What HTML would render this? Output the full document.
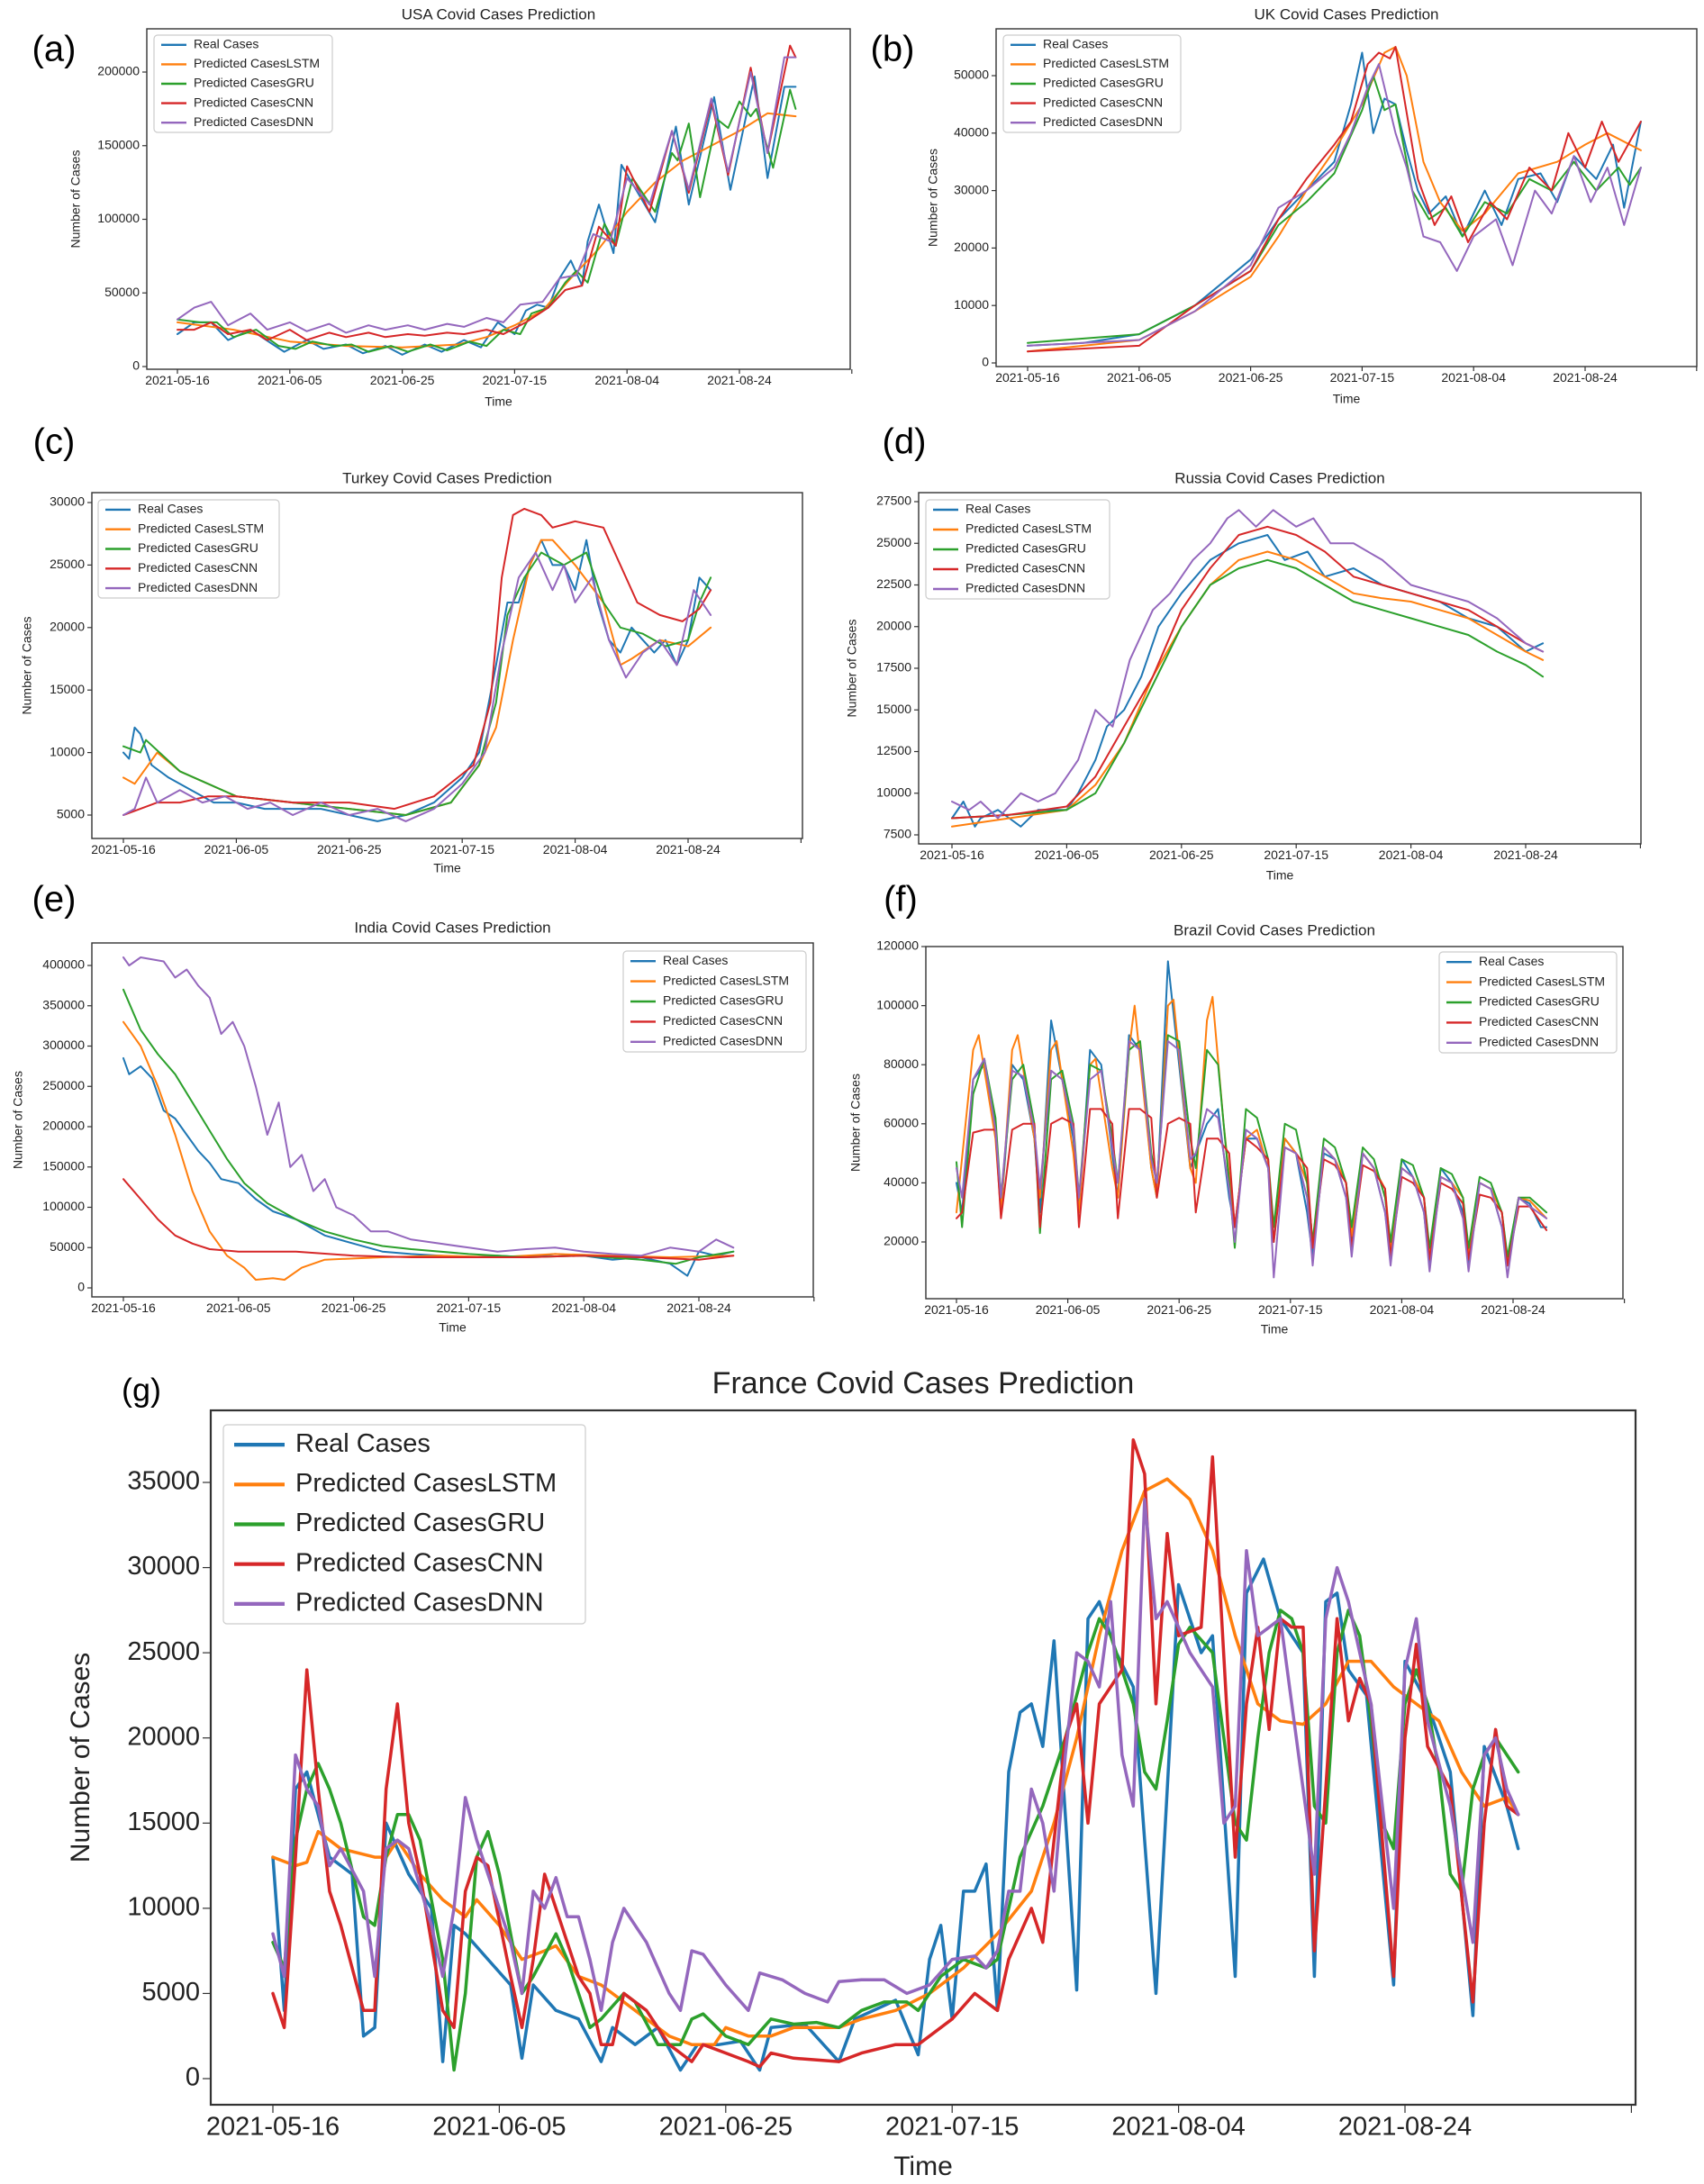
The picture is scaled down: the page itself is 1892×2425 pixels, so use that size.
<!DOCTYPE html>
<html><head><meta charset="utf-8"><title>Covid Cases Prediction</title>
<style>
html,body{margin:0;padding:0;background:#fff;}
svg{display:block;font-family:"Liberation Sans",sans-serif;}
</style></head>
<body>
<svg id="fig" width="1892" height="2425" viewBox="0 0 1892 2425" xmlns="http://www.w3.org/2000/svg"></svg>
<script>
const seriesNames = ['Real Cases','Predicted CasesLSTM','Predicted CasesGRU','Predicted CasesCNN','Predicted CasesDNN'];
const seriesColors = ['#1f77b4','#ff7f0e','#2ca02c','#d62728','#9467bd'];
const dateLabels = ['2021-05-16','2021-06-05','2021-06-25','2021-07-15','2021-08-04','2021-08-24'];
const dateDays = [0,20,40,60,80,100];

// ---- USA (values in thousands) ----
const usaReal=[0,22,3,30,6,30,9,18,13,25,17,15,19,10,23,18,26,12,30,15,33,9,37,14,40,8,44,15,47,10,51,18,54,13,57,30,60,22,62,38,64,42,66,40,68,60,70,72,72,55,73,85,75,110,77.6,77,79,137,85,98,88.7,163,91,110,95.5,183,98.4,120,102.7,197,105,128,108,190,110,190];
const usaLSTM=[0,30,10,25,20,17,30,14,40,13,50,15,55,20,60,28,65,38,70,60,75,80,80,105,85,125,90,140,95,150,100,160,105,172,110,170];
const usaGRU=[0,32,4,30,7,30,10,20,14,25,18,14,21,12,24,17,28,14,31,15,34,10,38,14,41,10,45,15,48,11,52,17,55,14,58,25,61,22,63,36,66,40,69,57,71,65,73,57,76,97,78,82,81,128,85,105,88,145,89,140,91,165,93,115,96,168,98,162,100,180,102,170,103,175,106,135,109,188,110,175];
const usaCNN=[0,25,3,25,6,30,9,22,13,25,16,18,20,25,23,18,27,23,30,20,34,23,37,20,41,22,44,21,48,23,51,22,55,25,58,22,62,30,66,40,69,52,72,55,75,95,78,82,80,136,84,105,88,160,91,118,95,180,98,130,102,203,105,145,109,218,110,210];
const usaDNN=[0,32,3,40,6,44,9,28,13,36,16,25,20,30,23,24,27,29,30,23,34,28,37,25,41,28,44,25,48,29,51,27,55,33,58,30,61,42,65,44,68,60,71,62,74,90,77,85,80,128,84,110,88,160,91,120,95,182,98,132,102,200,105,145,108,210,110,210];

// ---- UK ----
const ukReal=[0,3,10,3.5,20,5,30,10,35,14,40,18,45,25,50,30,55,35,58,45,60,54,62,40,64,46,66,45,68,37,70,30,72,26,75,29,78,22,82,30,85,24,88,32,92,33,95,28,98,36,102,32,105,38,107,27,110,42];
const ukLSTM=[0,2,20,4,30,9,40,15,45,22,50,30,55,37,60,45,64,54,66,55,68,50,71,35,74,28,78,23,82,26,88,33,95,35,100,38,104,40,110,37];
const ukGRU=[0,3.5,20,5,30,10,40,16,45,24,50,28,55,33,60,44,62,50,64,44,66,45,69,30,72,25,75,27,78,22,82,28,86,26,90,32,94,30,98,35,102,30,106,34,108,31,110,34];
const ukCNN=[0,2,20,3,30,10,40,16,45,25,50,32,55,38,58,42,61,52,63,54,65,53,66,55,70,32,73,24,76,29,79,21,83,28,86,25,90,34,94,30,97,40,100,34,103,42,106,35,110,42];
const ukDNN=[0,3,20,4,30,9,40,17,45,27,50,30,55,34,58,40,61,48,63,52,66,40,68,34,71,22,74,21,77,16,80,22,84,25,87,17,91,30,94,26,98,36,101,28,104,34,107,24,110,34];

// ---- Turkey ----
const trReal=[0,10,1,9.5,2,12,3,11.5,5,9,8,8,12,7,16,6,20,6,25,5.5,30,5.5,35,5.5,40,5,45,4.5,50,5,55,6,60,8,63,10,66,17,68,22,70,22,72,25,74,27,76,25,78,25,80,23,82,27,84,22,86,19,88,18,90,20,92,19,94,18,96,19,98,17,100,19,102,24,104,23];
const trLSTM=[0,8,2,7.5,6,10,10,8.5,20,6.5,30,6,40,5.5,50,5,58,6,63,9,66,12,69,19,72,25,74,27,76,27,80,25,85,22,88,17,90,17.5,95,19,100,18.5,104,20];
const trGRU=[0,10.5,3,10,4,11,10,8.5,15,7.5,20,6.5,30,6,40,5.5,50,5,58,6,63,9,66,14,68,21,71,24,74,26,78,25,82,26,85,22,88,20,92,19.5,96,18.5,100,19,102,22,104,24];
const trCNN=[0,5,3,5.5,6,6,10,6,15,6.5,20,6.5,30,6,40,6,48,5.5,55,6.5,62,9,65,14,67,24,69,29,71,29.5,74,29,76,28,80,28.5,85,28,88,25,91,22,95,21,99,20.5,102,21.5,104,23];
const trDNN=[0,5,2,5.5,4,8,6,6,10,7,14,6,18,6.5,22,5.5,26,6,30,5,35,6,40,5,45,5.5,50,4.5,55,5.5,60,7.5,64,10,67,18,70,24,73,26,76,23,78,25,80,22,83,24,86,19,89,16,92,18,95,19,98,17,101,23,104,21];

// ---- Russia ----
const ruReal=[0,8.5,2,9.5,4,8,5,8.5,8,9,10,8.5,12,8,15,9,20,9,22,10,25,12,27,14,30,15,33,17,36,20,40,22,45,24,50,25,55,25.5,58,24,62,24.5,65,23,70,23.5,75,22.5,80,22,85,21.5,90,20.5,95,20,100,18.5,103,19];
const ruLSTM=[0,8,10,8.5,20,9,25,10.5,30,13,35,17,40,20,45,22.5,50,24,55,24.5,60,24,65,23,70,22,75,21.7,80,21.5,85,21,90,20.5,95,19.5,100,18.5,103,18];
const ruGRU=[0,8.5,10,8.7,20,9,25,10,30,13,35,16.5,40,20,45,22.5,50,23.5,55,24,60,23.5,65,22.5,70,21.5,75,21,80,20.5,85,20,90,19.5,95,18.5,100,17.7,103,17];
const ruCNN=[0,8.5,10,8.7,20,9.2,25,11,30,14,35,17,40,21,45,23.5,50,25.5,55,26,60,25.5,65,24.5,70,23,75,22.5,80,22,85,21.5,90,21,95,20,100,19,103,18.5];
const ruDNN=[0,9.5,3,9,5,9.5,8,8.5,12,10,15,9.5,18,10,22,12,25,15,28,14,31,18,35,21,38,22,42,24,45,25,48,26.5,50,27,53,26,56,27,60,26,63,26.5,66,25,70,25,75,24,80,22.5,85,22,90,21.5,95,20.5,100,19,103,18.5];

// ---- India ----
const inReal=[0,285,1,265,3,275,5,260,7,220,9,210,11,190,13,170,15,155,17,135,20,130,23,110,26,95,30,85,35,65,40,55,45,45,50,42,55,40,60,38,65,40,70,38,75,42,80,40,85,35,90,38,95,30,98,15,100,45,103,40,106,45];
const inLSTM=[0,330,3,300,6,250,9,190,12,120,15,70,18,40,21,25,23,10,26,12,28,10,31,25,35,35,45,38,55,40,65,38,75,42,85,40,95,38,106,40];
const inGRU=[0,370,3,320,6,290,9,265,12,230,15,195,18,160,21,130,25,105,30,85,35,70,40,60,45,52,50,48,60,42,70,38,80,40,90,35,96,30,100,38,106,45];
const inCNN=[0,135,3,110,6,85,9,65,12,55,15,48,20,45,30,45,40,40,50,38,60,38,70,38,80,40,90,38,100,35,106,40];
const inDNN=[0,410,1,400,3,410,7,405,9,385,11,395,13,375,15,360,17,315,19,330,21,300,23,250,25,190,27,230,29,150,31,165,33,120,35,135,37,100,40,90,43,70,46,70,50,60,55,55,60,50,65,45,70,48,75,50,80,45,85,42,90,40,95,50,100,45,103,60,106,50];

// ---- Brazil ----
const brReal=[0,40,1,30,3,75,5,80,7,60,8,30,10,80,12,75,14,55,15,30,17,95,19,75,21,55,22,30,24,85,26,80,28,50,29,35,31,90,33,85,35,45,36,35,38,115,40,80,42,45,43,50,45,60,47,65,49,35,50,25,52,55,54,55,56,45,57,20,59,55,61,50,63,30,64,15,66,50,68,48,70,35,71,20,73,50,75,45,77,30,78,15,80,48,82,42,84,30,85,12,87,45,89,40,91,30,92,12,94,40,96,38,98,25,99,12,101,35,103,33,105,25,106,25];
const brLSTM=[0,30,3,85,4,90,7,55,8,30,10,85,11,90,14,55,15,35,17,85,18,88,21,50,22,30,24,80,25,82,28,45,29,35,31,85,32,100,35,45,36,35,38,100,39,102,42,45,43,40,45,95,46,103,48,60,50,25,52,55,54,58,56,45,57,25,59,55,61,50,63,40,64,20,66,52,68,48,70,40,71,22,73,50,75,45,77,38,78,18,80,45,82,42,84,35,85,16,87,42,89,40,91,35,92,16,94,40,96,38,98,30,99,14,101,35,103,34,106,28];
const brGRU=[0,47,1,25,3,70,5,82,7,62,8,35,10,75,12,80,14,60,15,23,17,75,19,78,21,60,22,35,24,80,26,78,28,55,29,40,31,85,33,88,35,50,36,40,38,90,40,88,42,55,43,45,45,85,47,80,49,40,50,18,52,65,54,62,56,48,57,25,59,60,61,58,63,40,64,20,66,55,68,52,70,40,71,25,73,52,75,48,77,35,78,20,80,48,82,46,84,35,85,18,87,45,89,43,91,35,92,18,94,42,96,40,98,30,99,15,101,35,103,35,106,30];
const brCNN=[0,28,1,30,3,57,5,58,7,58,8,28,10,58,12,60,14,60,15,25,17,60,19,62,21,60,22,25,24,65,26,65,28,60,29,28,31,65,33,65,35,62,36,35,38,60,40,62,42,60,43,30,45,55,47,55,49,50,50,25,52,55,54,52,56,48,57,20,59,52,61,50,63,45,64,18,66,48,68,46,70,40,71,18,73,46,75,44,77,38,78,15,80,42,82,40,84,35,85,14,87,40,89,38,91,33,92,14,94,36,96,35,98,30,99,12,101,32,103,32,106,24];
const brDNN=[0,45,1,35,3,75,5,82,7,58,8,35,10,78,12,76,14,58,15,38,17,78,19,75,21,58,22,35,24,75,26,78,28,52,29,40,31,88,33,85,35,48,36,40,38,88,40,85,42,48,43,50,45,65,47,62,49,38,50,20,52,58,54,55,56,45,57,8,59,52,61,50,63,35,64,12,66,52,68,48,70,35,71,15,73,50,75,45,77,30,78,12,80,45,82,42,84,30,85,10,87,42,89,40,91,28,92,10,94,40,96,38,98,25,99,8,101,35,103,32,106,28];

// ---- France ----
const frReal=[0,13,1,4,2,17,3,18,5,13,7,12,8,2.5,9,3,10,15,12,12,14,10,15,1,16,9,17,8.5,19,7,21,5.5,22,1.2,23,5.5,25,4,27,3.5,29,1,30,3,32,2,34,3,36,0.5,37.5,2,39.4,2,41.3,2.2,43,0.5,44,3,47,3.2,50,1,51.4,3.5,55,4.6,57,1.4,58,7,59,9,60,3.5,61,11,62,11,63,12.6,64,4,65,18,66,21.5,67,22,68,19.5,69,25.7,71,5.2,72,27,73,28,74.5,25,76,23,78,5,80,29,82,25,83,26,85,6,86,28.5,87.5,30.5,89,27,91,25,92,6,93,28,94,28.5,95,24,96.6,22.5,99,5.5,100,24.5,102,22,104,18,106,3.7,107,19.5,109,16,110,13.5];
const frLSTM=[0,13,2,12.5,3,12.7,4,14.5,6,13.5,9,13,10,13,11,14,13,12,15,10.5,17,9.5,18,10.5,20,9,22,7,24,7.5,25,7.8,27,6,29,5.5,31,4.5,33,3.5,35,2.5,37,2,39,2,40,3,42,2.5,44,2.5,46,3,48,3,50,3,52,3.5,55,4,58,5,61,6.5,64,8.5,67,11,69,15,71,20,73,26,75,31,77,34.5,79,35.2,81,34,83,31,85,26,87,22,89,21,91,20.8,93,22,95,24.5,97,24.5,99,23,101,22,103,21,105,18,107,16,109,16.5,110,15.5];
const frGRU=[0,8,1,6.5,2,14,3,17,4,18.5,5,17,6,15,8,9.5,9,9,10,13,11,15.5,12,15.5,13,14,15,7,16,0.5,17,5,18,13,19,14.5,20,12,22,5,23,6,25,8.5,26,7,28,3,29,3.5,31,5,32,4.5,34,2,36,2,37,3.5,38,3.8,40,2.5,42,2,44,3.5,46,3.2,48,3.3,50,3,52,4,54,4.5,56,4.5,57,4,59,6,61,7,63,6.5,64,7,66,13,68,16,70,20,72,25,73,27,74,26,76,22,77,18,78,17,79,21,80,25.5,81,26.5,83,25,84,20,85,15,86,14,87,20,88,25,89,27.5,90,27,91,25,92,16,93,15,94,25,95,27.5,96,26,97,21,98,15,99,13.5,100,22,101,24,102,22,103,18,104,12,105,11,106,17,107,19,108,20,110,18];
const frCNN=[0,5,1,3,2,13,3,24,4,17,5,11,6,9,8,4,9,4,10,17,11,22,12,15,13,12,15,4,16,3,17,11,18,13,19,12.5,21,6,22,3,23,7,24,12,25,10,27,6,28,5,29,2,30,2,31,5,33,4,35,2,37,1,38,2,40,1.5,42,1,43,0.7,44,1.5,46,1.2,50,1,52,1.5,55,2,57,2,59,3,60,3.5,62,5,64,4,65,7,67,10,68,8,70,20,71,22,72,15,73,22,75,24,76,37.5,77,35.5,78,22,79,32,80,26,82,26.5,83,36.5,85,13,86,22,87,26.5,88,20.5,89,27,90,26.5,91,26.5,92,7.5,93,17,94,27,95,21,96,23.5,97,22,99,6,100,20,101,25.5,102,19.5,104,17,106,4.5,107,15,108,20.5,109,16,110,15.5];
const frDNN=[0,8.5,1,6,2,19,3,17,4,16,5,12.5,6,13.5,8,11,9,6,10,13.5,11,14,12,13.5,14,9,15,6,16,10,17,16.5,18,14,20,10,21,8,22,5,23,11,24,10,25,11.8,26,9.5,27,9.5,28,7,29,4,30,8,31,10,32,9,33,8,35,5,36,4,37,7.5,38,7.3,40,5.5,42,4,43,6.2,45,5.8,47,5,49,4.5,50,5.7,52,5.8,54,5.8,56,5,58,5.5,60,7,62,7.2,63,6.5,64,7.5,65,11,66,11,67,17,68,15,69,11,70,19,71,25,72,24.5,73,23,74,28,75,19,76,16,77,34,78,27,79,28,81,25,82,24,83,23,84,15,85,16,86,31,87,26,88,26.5,89,27,90,22,91,17,92,12,93,27,94,30,95,28,97,22,98,16,99,10,100,24,101,27,102,21,104,16,105,12,106,8,107,19,108,20,109,17,110,15.5];

// ---- tick values ----
const usaTicks=[0,50000,100000,150000,200000];
const ukTicks=[0,10000,20000,30000,40000,50000];
const trTicks=[5000,10000,15000,20000,25000,30000];
const ruTicks=[7500,10000,12500,15000,17500,20000,22500,25000,27500];
const inTicks=[0,50000,100000,150000,200000,250000,300000,350000,400000];
const brTicks=[20000,40000,60000,80000,100000,120000];
const frTicks=[0,5000,10000,15000,20000,25000,30000,35000];

const NS='http://www.w3.org/2000/svg';
const svg=document.getElementById('fig');
function mk(tag,attrs,parent){const e=document.createElementNS(NS,tag);for(const k in attrs)e.setAttribute(k,attrs[k]);(parent||svg).appendChild(e);return e;}

function chart(c){
  const g=mk('g',{});
  
  
  const [L,T,R,B]=c.box;
  const xs=d=>c.xcal[0]+(c.xcal[1]-c.xcal[0])*d/100;
  const ys=v=>c.ycal[1]+(v-c.ycal[0])*(c.ycal[3]-c.ycal[1])/(c.ycal[2]-c.ycal[0]);
  // panel label
  const pl=mk('text',{x:c.panel[0],y:c.panel[1],'font-size':c.fs.panel,'text-anchor':'middle','dominant-baseline':'middle',fill:'#000'},g);
  pl.textContent=c.panel[2];
  
  
  // title
  const tt=mk('text',{x:(L+R)/2,y:c.titleY,'font-size':c.fs.title,'text-anchor':'middle','dominant-baseline':'middle',fill:'#222'},g);
  tt.textContent=c.title;
  
  
  // clip
  const cp=mk('clipPath',{id:'clip-'+c.id},g);
  mk('rect',{x:L,y:T,width:R-L,height:B-T},cp);
  // series
  const sg=mk('g',{'clip-path':'url(#clip-'+c.id+')'},g);
  c.series.forEach((arr,i)=>{
    let d='';
    for(let k=0;k<arr.length;k+=2){d+=(k?'L':'M')+xs(arr[k]).toFixed(1)+','+ys(arr[k+1]*c.unit).toFixed(1);}
    const p=mk('path',{d:d,fill:'none',stroke:seriesColors[i],'stroke-width':c.lw,'stroke-linejoin':'round','stroke-linecap':'round'},sg);
    
    
  });
  // frame
  const fr=mk('rect',{x:L,y:T,width:R-L,height:B-T,fill:'none',stroke:'#333','stroke-width':c.fs.frame},g);
  
  
  // y ticks
  c.yticks.forEach(v=>{
    const y=ys(v);
    mk('line',{x1:L,x2:L-c.fs.tl,y1:y,y2:y,stroke:'#333','stroke-width':1.2},g);
    const t=mk('text',{x:L-c.fs.tl-3,y:y,'font-size':c.fs.tick,'text-anchor':'end','dominant-baseline':'middle',fill:'#222'},g);
    t.textContent=String(v);
    
    
  });
  // x ticks
  dateDays.forEach((d,i)=>{
    const x=xs(d);
    mk('line',{x1:x,x2:x,y1:B,y2:B+c.fs.tl,stroke:'#333','stroke-width':1.2},g);
    const t=mk('text',{x:x,y:B+c.fs.tl+c.fs.tick*0.85,'font-size':c.fs.tick,'text-anchor':'middle',fill:'#222'},g);
    t.textContent=dateLabels[i];
    
    
  });
  mk('line',{x1:xs(120),x2:xs(120),y1:B,y2:B+c.fs.tl,stroke:'#333','stroke-width':1.2},g);
  // axis labels
  const xl=mk('text',{x:(L+R)/2,y:c.timeY,'font-size':c.fs.label,'text-anchor':'middle','dominant-baseline':'middle',fill:'#222'},g);
  xl.textContent='Time';
  
  
  const yc=(T+B)/2;
  const yl=mk('text',{x:c.ylabelX,y:yc,'font-size':c.fs.label,'text-anchor':'middle','dominant-baseline':'middle',fill:'#222',transform:'rotate(-90 '+c.ylabelX+' '+yc+')'},g);
  yl.textContent='Number of Cases';
  
  
  // legend
  const [lx,ly,lw,lh]=c.legend;
  const lg=mk('g',{},g);
  
  
  mk('rect',{x:lx,y:ly,width:lw,height:lh,rx:4,fill:'#fff','fill-opacity':0.85,stroke:'#ccc','stroke-width':1.2},lg);
  const row=lh/5;
  seriesNames.forEach((n,i)=>{
    const cy=ly+row*(i+0.5);
    const e=mk('g',{},lg);
    
    
    mk('line',{x1:lx+c.fs.lpad,x2:lx+c.fs.lpad+c.fs.lline,y1:cy,y2:cy,stroke:seriesColors[i],'stroke-width':c.lw*1.2},e);
    const t=mk('text',{x:lx+c.fs.lpad*2+c.fs.lline,y:cy,'font-size':c.fs.legend,'dominant-baseline':'middle',fill:'#222'},e);
    t.textContent=n;
  });
}

const small={panel:40,title:17,tick:14,label:14,legend:14,tl:5,lpad:8,lline:28,frame:1.4};
const big={panel:36,title:34,tick:29,label:30,legend:29,tl:9,lpad:12,lline:56,frame:2.2};

chart({id:'usa',title:'USA Covid Cases Prediction',panel:[60,57,'(a)'],box:[163,32,944,410],xcal:[197,821],ycal:[0,407,200000,80],yticks:usaTicks,unit:1000,series:[usaReal,usaLSTM,usaGRU,usaCNN,usaDNN],legend:[171,39,198,108],titleY:17,timeY:447,ylabelX:85,fs:small,lw:2});
chart({id:'uk',title:'UK Covid Cases Prediction',panel:[991,57,'(b)'],box:[1106,32,1884,407],xcal:[1141,1760],ycal:[0,403,50000,84],yticks:ukTicks,unit:1000,series:[ukReal,ukLSTM,ukGRU,ukCNN,ukDNN],legend:[1114,39,197,108],titleY:17,timeY:444,ylabelX:1037,fs:small,lw:2});
chart({id:'turkey',title:'Turkey Covid Cases Prediction',panel:[60,493,'(c)'],box:[102,547,891,931],xcal:[137,764],ycal:[5000,905,30000,558],yticks:trTicks,unit:1000,series:[trReal,trLSTM,trGRU,trCNN,trDNN],legend:[109,555,201,109],titleY:532,timeY:965,ylabelX:31,fs:small,lw:2});
chart({id:'russia',title:'Russia Covid Cases Prediction',panel:[1004,493,'(d)'],box:[1020,547,1822,937],xcal:[1057,1694],ycal:[7500,927,27500,557],yticks:ruTicks,unit:1000,series:[ruReal,ruLSTM,ruGRU,ruCNN,ruDNN],legend:[1028,555,204,110],titleY:532,timeY:973,ylabelX:947,fs:small,lw:2});
chart({id:'india',title:'India Covid Cases Prediction',panel:[60,1001,'(e)'],box:[102,1047,903,1440],xcal:[137,776],ycal:[0,1430,400000,1072],yticks:inTicks,unit:1000,series:[inReal,inLSTM,inGRU,inCNN,inDNN],legend:[692,1056,203,112],titleY:1031,timeY:1475,ylabelX:21,fs:small,lw:2});
chart({id:'brazil',title:'Brazil Covid Cases Prediction',panel:[1000,1001,'(f)'],box:[1028,1051,1802,1442],xcal:[1062,1680],ycal:[20000,1379,120000,1051],yticks:brTicks,unit:1000,series:[brReal,brLSTM,brGRU,brCNN,brDNN],legend:[1598,1057,197,112],titleY:1034,timeY:1477,ylabelX:951,fs:small,lw:2});
chart({id:'france',title:'France Covid Cases Prediction',panel:[157,1546,'(g)'],box:[234,1566,1816,2337],xcal:[303,1560],ycal:[0,2308,35000,1646],yticks:frTicks,unit:1000,series:[frReal,frLSTM,frGRU,frCNN,frDNN],legend:[248,1582,402,221],titleY:1538,timeY:2407,ylabelX:91,fs:big,lw:3.5});
</script>
</body></html>
